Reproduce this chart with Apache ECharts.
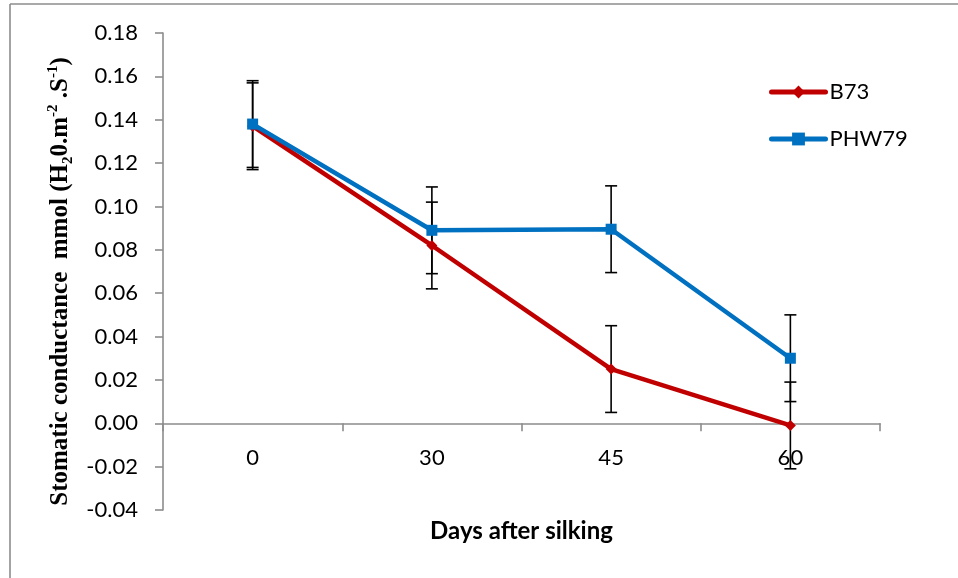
<!DOCTYPE html>
<html>
<head>
<meta charset="utf-8">
<script src="https://cdn.jsdelivr.net/npm/echarts@6/dist/echarts.min.js"></script>
<style>
  html, body { margin: 0; padding: 0; background: #fff; }
  #chart { width: 958px; height: 578px; }
</style>
</head>
<body>
<div id="chart"></div>
<script>
// Days after silking
const categories = ['0', '30', '45', '60'];
// Stomatic conductance, mean values
const b73 = [0.137, 0.082, 0.025, -0.001];
const phw79 = [0.138, 0.089, 0.0895, 0.030];
// Error bar half-widths
const b73Err = [0.02, 0.02, 0.02, 0.02];
const phw79Err = [0.02, 0.02, 0.02, 0.02];
// Value axis ticks
const yMin = -0.04, yMax = 0.18, yStep = 0.02;

const axisGray = '#8c8c8c';
const labelFont = 'Lato, "Open Sans", sans-serif';
const serifFont = '"Liberation Serif", "Times New Roman", serif';

function errorData(vals, errs) {
  return vals.map((v, i) => [i, v - errs[i], v + errs[i]]);
}

function renderErrorBar(params, api) {
  const x = api.value(0);
  const lo = api.coord([x, api.value(1)]);
  const hi = api.coord([x, api.value(2)]);
  const half = 6;
  const style = { stroke: '#000', lineWidth: 1.6 };
  return {
    type: 'group',
    children: [
      { type: 'line', shape: { x1: hi[0], y1: hi[1], x2: lo[0], y2: lo[1] }, style },
      { type: 'line', shape: { x1: hi[0] - half, y1: hi[1], x2: hi[0] + half, y2: hi[1] }, style },
      { type: 'line', shape: { x1: lo[0] - half, y1: lo[1], x2: lo[0] + half, y2: lo[1] }, style }
    ]
  };
}

const chart = echarts.init(document.getElementById('chart'), null, { renderer: 'canvas' });

// The category axis sits at the zero level: lift it up from the grid's bottom edge
const gridTop = 33, gridBottom = 68, plotHeight = 578 - gridTop - gridBottom;
const zeroLift = plotHeight * (0 - yMin) / (yMax - yMin);

chart.setOption({
  animation: false,
  backgroundColor: '#fff',
  grid: { left: 163, right: 78, top: gridTop, bottom: gridBottom, containLabel: false, outerBoundsMode: 'none' },
  legend: {
    orient: 'vertical',
    left: 764,
    top: 76,
    itemWidth: 54,
    itemHeight: 16,
    itemGap: 25,
    lineStyle: { width: 5, cap: 'round' },
    textStyle: { fontFamily: labelFont, fontSize: 22, color: '#000', padding: [0, 0, 0, -1] },
    data: ['B73', 'PHW79']
  },
  xAxis: {
    type: 'category',
    data: categories,
    boundaryGap: true,
    offset: -zeroLift,
    axisLine: { onZero: false, lineStyle: { color: axisGray, width: 1.6 } },
    axisTick: { show: true, length: 8, inside: false, alignWithLabel: false, lineStyle: { color: axisGray, width: 1.6 } },
    axisLabel: { fontFamily: labelFont, fontSize: 22, color: '#000', margin: 24 },
    name: 'Days after silking',
    nameLocation: 'middle',
    nameGap: 96,
    nameTextStyle: { fontFamily: labelFont, fontSize: 24, fontWeight: 'bold', color: '#000' }
  },
  yAxis: {
    type: 'value',
    min: yMin,
    max: yMax,
    interval: yStep,
    splitLine: { show: false },
    axisLine: { show: true, lineStyle: { color: axisGray, width: 1.6 } },
    axisTick: { show: true, length: 8, lineStyle: { color: axisGray, width: 1.6 } },
    axisLabel: {
      fontFamily: labelFont, fontSize: 22, color: '#000', margin: 25,
      formatter: v => v.toFixed(2)
    },
    name: '{t|Stomatic conductance  mmol (H}{sub|2}{t|0.m}{sup|-2}{t| .S}{sup|-1}{t|)}',
    nameLocation: 'middle',
    nameRotate: 90,
    nameGap: 87,
    nameTextStyle: {
      color: '#000',
      padding: [0, 20, 0, 0],
      rich: {
        t: { fontFamily: serifFont, fontSize: 25, fontWeight: 'bold', color: '#000', lineHeight: 30, verticalAlign: 'middle' },
        sub: { fontFamily: serifFont, fontSize: 15, fontWeight: 'bold', color: '#000', lineHeight: 30, verticalAlign: 'bottom' },
        sup: { fontFamily: serifFont, fontSize: 15, fontWeight: 'bold', color: '#000', lineHeight: 30, verticalAlign: 'top' }
      }
    }
  },
  series: [
    {
      type: 'custom',
      name: 'B73 error',
      renderItem: renderErrorBar,
      encode: { x: 0, y: [1, 2] },
      data: errorData(b73, b73Err),
      z: 1,
      silent: true
    },
    {
      type: 'custom',
      name: 'PHW79 error',
      renderItem: renderErrorBar,
      encode: { x: 0, y: [1, 2] },
      data: errorData(phw79, phw79Err),
      z: 1,
      silent: true
    },
    {
      name: 'B73',
      type: 'line',
      data: b73,
      symbol: 'diamond',
      symbolSize: 11,
      showAllSymbol: true,
      lineStyle: { color: '#C00000', width: 4.5 },
      itemStyle: { color: '#C00000' },
      z: 3
    },
    {
      name: 'PHW79',
      type: 'line',
      data: phw79,
      symbol: 'rect',
      symbolSize: 11,
      showAllSymbol: true,
      lineStyle: { color: '#0070C0', width: 4.5 },
      itemStyle: { color: '#0070C0' },
      z: 4
    }
  ],
  graphic: [
    { type: 'line', shape: { x1: 10, y1: 4, x2: 10, y2: 578 }, style: { stroke: '#8c8c8c', lineWidth: 1.6 } },
    { type: 'line', shape: { x1: 10, y1: 4, x2: 958, y2: 4 }, style: { stroke: '#8c8c8c', lineWidth: 1.6 } }
  ]
});
</script>
</body>
</html>
